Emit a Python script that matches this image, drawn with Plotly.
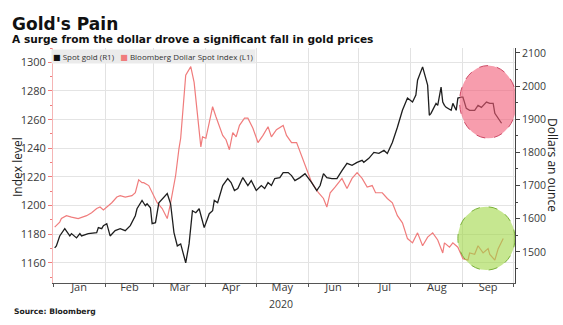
import plotly.graph_objects as go

# Bloomberg Dollar Spot Index (left axis)
dollar_dates = [
    "2020-01-02", "2020-01-05", "2020-01-06", "2020-01-09", "2020-01-12", "2020-01-16",
    "2020-01-21", "2020-01-24", "2020-01-27", "2020-01-29", "2020-01-31", "2020-02-02",
    "2020-02-05", "2020-02-08", "2020-02-10", "2020-02-13", "2020-02-17", "2020-02-19",
    "2020-02-21", "2020-02-23", "2020-02-24", "2020-02-27", "2020-02-29", "2020-03-03",
    "2020-03-06", "2020-03-09", "2020-03-11", "2020-03-14", "2020-03-16", "2020-03-17",
    "2020-03-20", "2020-03-23", "2020-03-25", "2020-03-27", "2020-03-29", "2020-03-30",
    "2020-04-01", "2020-04-03", "2020-04-05", "2020-04-07", "2020-04-09", "2020-04-11",
    "2020-04-13", "2020-04-15", "2020-04-17", "2020-04-19", "2020-04-21", "2020-04-24",
    "2020-04-26", "2020-04-29", "2020-05-02", "2020-05-05", "2020-05-08", "2020-05-10",
    "2020-05-13", "2020-05-17", "2020-05-19", "2020-05-22", "2020-05-25", "2020-05-28",
    "2020-05-31", "2020-06-03", "2020-06-07", "2020-06-10", "2020-06-12", "2020-06-14",
    "2020-06-17", "2020-06-21", "2020-06-24", "2020-06-27", "2020-06-30", "2020-07-03",
    "2020-07-06", "2020-07-09", "2020-07-11", "2020-07-15", "2020-07-18", "2020-07-21",
    "2020-07-24", "2020-07-27", "2020-07-30", "2020-08-02", "2020-08-05", "2020-08-08",
    "2020-08-11", "2020-08-14", "2020-08-17", "2020-08-20", "2020-08-21", "2020-08-24",
    "2020-08-26", "2020-08-29", "2020-09-01", "2020-09-04", "2020-09-05", "2020-09-08",
    "2020-09-10", "2020-09-13", "2020-09-16", "2020-09-17", "2020-09-20", "2020-09-22",
    "2020-09-25",
]
dollar_values = [
    1185, 1188.5, 1191, 1193, 1192, 1191,
    1193, 1195, 1198, 1199, 1197, 1199,
    1202, 1206, 1207, 1206, 1207, 1209,
    1218, 1216, 1216, 1214, 1209, 1202,
    1198, 1191, 1202, 1221, 1240, 1247,
    1291, 1297, 1286, 1265, 1241, 1248,
    1247, 1258, 1269, 1262, 1256, 1249,
    1246, 1239, 1251, 1248, 1256, 1261,
    1261, 1254, 1244, 1249, 1255, 1248,
    1253, 1256, 1249, 1244, 1244, 1235,
    1226, 1216, 1209, 1205, 1199, 1209,
    1213, 1219, 1212, 1219, 1223, 1219,
    1213, 1214, 1209, 1209, 1205, 1202,
    1193, 1188, 1177, 1174, 1181, 1172,
    1178, 1181, 1176, 1167, 1174, 1171,
    1174, 1171, 1163, 1162, 1167, 1166,
    1172, 1167, 1170, 1166, 1162, 1170,
    1177,
]

# Spot gold, dollars an ounce (right axis)
gold_dates = [
    "2020-01-02", "2020-01-03", "2020-01-05", "2020-01-08", "2020-01-11", "2020-01-12",
    "2020-01-15", "2020-01-17", "2020-01-18", "2020-01-22", "2020-01-27", "2020-01-28",
    "2020-01-30", "2020-01-31", "2020-02-02", "2020-02-04", "2020-02-07", "2020-02-10",
    "2020-02-13", "2020-02-16", "2020-02-19", "2020-02-20", "2020-02-23", "2020-02-25",
    "2020-02-26", "2020-02-28", "2020-02-29", "2020-03-02", "2020-03-04", "2020-03-07",
    "2020-03-09", "2020-03-11", "2020-03-13", "2020-03-15", "2020-03-17", "2020-03-20",
    "2020-03-22", "2020-03-24", "2020-03-26", "2020-03-28", "2020-03-31", "2020-04-03",
    "2020-04-05", "2020-04-06", "2020-04-08", "2020-04-11", "2020-04-14", "2020-04-16",
    "2020-04-18", "2020-04-20", "2020-04-23", "2020-04-26", "2020-04-28", "2020-05-01",
    "2020-05-04", "2020-05-06", "2020-05-08", "2020-05-10", "2020-05-12", "2020-05-15",
    "2020-05-17", "2020-05-20", "2020-05-22", "2020-05-24", "2020-05-27", "2020-05-30",
    "2020-06-01", "2020-06-03", "2020-06-06", "2020-06-08", "2020-06-10", "2020-06-12",
    "2020-06-15", "2020-06-18", "2020-06-21", "2020-06-24", "2020-06-27", "2020-06-30",
    "2020-07-03", "2020-07-04", "2020-07-07", "2020-07-10", "2020-07-13", "2020-07-16",
    "2020-07-18", "2020-07-21", "2020-07-24", "2020-07-27", "2020-07-30", "2020-08-02",
    "2020-08-04", "2020-08-05", "2020-08-08", "2020-08-11", "2020-08-12", "2020-08-13",
    "2020-08-16", "2020-08-17", "2020-08-19", "2020-08-20", "2020-08-21", "2020-08-22",
    "2020-08-25", "2020-08-26", "2020-08-28", "2020-08-29", "2020-08-31", "2020-09-01",
    "2020-09-03", "2020-09-05", "2020-09-08", "2020-09-10", "2020-09-12", "2020-09-15",
    "2020-09-17", "2020-09-19", "2020-09-20", "2020-09-22", "2020-09-24",
]
gold_values = [
    1512, 1518, 1548, 1570, 1548, 1555,
    1542, 1555, 1548, 1555, 1558, 1573,
    1570, 1579, 1585, 1548, 1564, 1570,
    1564, 1579, 1609, 1630, 1655, 1639,
    1645, 1633, 1585, 1588, 1648, 1664,
    1676, 1645, 1558, 1518, 1524, 1467,
    1524, 1624, 1618, 1630, 1573, 1615,
    1624, 1655, 1648, 1700, 1721, 1709,
    1685, 1691, 1724, 1700, 1715, 1685,
    1700, 1691, 1709, 1700, 1721, 1724,
    1739, 1739, 1730, 1715, 1724, 1736,
    1724, 1709, 1685, 1700, 1736, 1724,
    1721, 1721, 1745, 1767, 1761, 1770,
    1776, 1770, 1782, 1800, 1797, 1806,
    1797, 1830, 1876, 1927, 1964, 1952,
    1973, 2018, 2058, 2003, 1912, 1918,
    1948, 1942, 1997, 1952, 1942, 1936,
    1927, 1948, 1927, 1964, 1967, 1967,
    1933, 1927, 1927, 1942, 1936, 1952,
    1948, 1948, 1918, 1903, 1888,
]

series_names = ["Spot gold (R1)", "Bloomberg Dollar Spot Index (L1)"]
year_label = "2020"

GOLD_COLOR = "#1e1e1e"
DOLLAR_COLOR = "#f07c7c"
SANS = "Open Sans, DejaVu Sans, sans-serif"
TICK_FONT = dict(family=SANS, size=11, color="#3a3a3a")
TITLE_FONT = dict(family=SANS, size=12, color="#222222")

# plot-area geometry in pixels
W, H = 563, 325
ML, MR, MT, MB = 53, 48, 48, 42
PW, PH = W - ML - MR, H - MT - MB


def px_x(px):
    return (px - ML) / PW


def px_y(py):
    return 1 - (py - MT) / PH


fig = go.Figure()

fig.add_trace(go.Scatter(
    x=dollar_dates, y=dollar_values, mode="lines", yaxis="y",
    line=dict(color=DOLLAR_COLOR, width=1.2), name=series_names[1],
))
fig.add_trace(go.Scatter(
    x=gold_dates, y=gold_values, mode="lines", yaxis="y2",
    line=dict(color=GOLD_COLOR, width=1.3), name=series_names[0],
))

# highlight circles around the latest moves
fig.add_shape(
    type="circle", xref="x", yref="y2", layer="above",
    x0="2020-08-30", x1="2020-10-03", y0=1843, y1=2062,
    fillcolor="rgba(242,92,118,0.6)",
    line=dict(color="rgba(200,60,90,0.9)", width=1, dash="dash"),
)
fig.add_shape(
    type="circle", xref="x", yref="y2", layer="above",
    x0="2020-08-29", x1="2020-10-02", y0=1445, y1=1636,
    fillcolor="rgba(160,215,70,0.6)",
    line=dict(color="rgba(110,170,40,0.9)", width=1, dash="dash"),
)

legend_text = (
    "<span style='color:#111111'>■</span> " + series_names[0]
    + "   <span style='color:%s'>■</span> " % DOLLAR_COLOR + series_names[1]
)

fig.update_layout(
    width=W, height=H,
    margin=dict(l=ML, r=MR, t=MT, b=MB, autoexpand=False),
    paper_bgcolor="white", plot_bgcolor="white",
    showlegend=False,
    xaxis=dict(
        type="date", range=["2020-01-01", "2020-10-02"],
        dtick="M1", tick0="2020-01-01", tickformat="%b", ticklabelmode="period",
        ticks="outside", ticklen=3, tickcolor="#555555", ticklabelstandoff=-9,
        showgrid=True, gridcolor="#e2e2e2", gridwidth=1, zeroline=False,
        showline=True, linecolor="#555555", linewidth=1,
        tickfont=TICK_FONT,
    ),
    yaxis=dict(
        range=[1146, 1310], dtick=20, tick0=1160,
        showgrid=True, gridcolor="#e4e4e4", zeroline=False,
        showline=True, linecolor="#f5b5b5", linewidth=1,
        ticks="outside", ticklen=4, tickcolor=DOLLAR_COLOR,
        minor=dict(dtick=10, ticklen=2, tickcolor=DOLLAR_COLOR, ticks="outside"),
        tickfont=TICK_FONT,
    ),
    yaxis2=dict(
        range=[1406, 2115], dtick=100, tick0=1500, overlaying="y", side="right",
        showgrid=False, zeroline=False,
        showline=True, linecolor="#444444", linewidth=1,
        ticks="outside", ticklen=4, tickcolor="#444444",
        minor=dict(dtick=50, ticklen=2, tickcolor="#444444", ticks="outside"),
        tickfont=dict(family=SANS, size=10.5, color="#3a3a3a"),
    ),
    annotations=[
        dict(text="<b>Gold's Pain</b>", xref="paper", yref="paper",
             x=px_x(10), y=px_y(12), xanchor="left", yanchor="top", showarrow=False,
             font=dict(family="DejaVu Sans", size=17, color="#111111")),
        dict(text="<b>A surge from the dollar drove a significant fall in gold prices</b>",
             xref="paper", yref="paper", x=px_x(10), y=px_y(31), showarrow=False,
             xanchor="left", yanchor="top",
             font=dict(family="DejaVu Sans", size=10.6, color="#111111")),
        dict(text=legend_text, xref="paper", yref="paper",
             x=px_x(51), y=px_y(49), xanchor="left", yanchor="top", showarrow=False,
             bgcolor="#ebebeb", borderpad=1,
             font=dict(family=SANS, size=8, color="#333333")),
        dict(text="Index level", xref="paper", yref="paper",
             x=px_x(17), y=px_y(167), xanchor="center", yanchor="middle",
             textangle=-90, showarrow=False, font=TITLE_FONT),
        dict(text="Dollars an ounce", xref="paper", yref="paper",
             x=px_x(553), y=px_y(165), xanchor="center", yanchor="middle",
             textangle=90, showarrow=False, font=TITLE_FONT),
        dict(text=year_label, xref="x", yref="paper", x="2020-05-16",
             y=px_y(295), xanchor="center", yanchor="top", showarrow=False,
             font=dict(family=SANS, size=10.5, color="#3a3a3a")),
        dict(text="<b>Source: Bloomberg</b>", xref="paper", yref="paper",
             x=px_x(12), y=px_y(305), xanchor="left", yanchor="top", showarrow=False,
             font=dict(family="DejaVu Sans", size=7.6, color="#222222")),
    ],
)

fig.write_html("out.html")
